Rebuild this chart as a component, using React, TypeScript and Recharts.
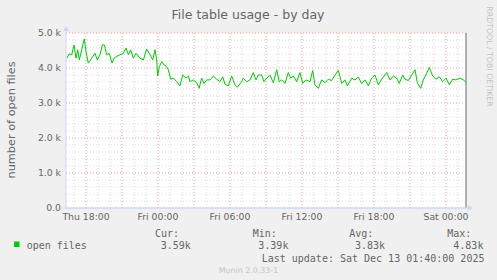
import React from 'react';
import { LineChart, Line, XAxis, YAxis, ReferenceLine } from 'recharts';

// time in hours counted from Thu 00:00, value = open files
const HOURS = [
  16.42, 16.58, 16.81, 17.0, 17.17, 17.31, 17.44, 17.64, 17.86, 18.0,
  18.19, 18.47, 18.75, 18.94, 19.17, 19.36, 19.53, 19.72, 19.94, 20.17,
  20.33, 20.56, 20.83, 21.11, 21.33, 21.53, 21.72, 21.94, 22.17, 22.5,
  22.78, 23.06, 23.33, 23.56, 23.75, 23.89, 23.97, 24.11, 24.31, 24.5,
  24.72, 24.86, 25.06, 25.28, 25.56, 25.83, 26.06, 26.33, 26.53, 26.67,
  26.94, 27.22, 27.42, 27.64, 27.83, 28.06, 28.33, 28.61, 28.89, 29.17,
  29.39, 29.58, 29.86, 30.14, 30.42, 30.61, 30.97, 31.11, 31.39, 31.67,
  31.94, 32.17, 32.36, 32.64, 32.83, 33.06, 33.33, 33.61, 33.89, 34.11,
  34.31, 34.58, 34.86, 35.06, 35.28, 35.56, 35.83, 36.06, 36.33, 36.67,
  36.89, 37.08, 37.36, 37.64, 37.92, 38.19, 38.47, 38.75, 39.03, 39.31,
  39.58, 39.78, 40.14, 40.42, 40.69, 40.97, 41.25, 41.53, 41.81, 42.08,
  42.36, 42.64, 43.06, 43.33, 43.61, 43.89, 44.11, 44.39, 44.58, 44.86,
  45.14, 45.42, 45.61, 45.89, 46.11, 46.39, 46.61, 46.89, 47.17, 47.44,
  47.72, 48.0, 48.28, 48.56, 48.83, 49.17, 49.44, 49.67,
];

const OPEN_FILES = [
  4280, 4400, 4380, 4660, 4280, 4520, 4230, 4520, 4830, 4470,
  4140, 4280, 4420, 4230, 4380, 4660, 4660, 4380, 4420, 4140,
  4280, 4330, 4380, 4420, 4570, 4380, 4520, 4280, 4420, 4280,
  4230, 4540, 4380, 4230, 4520, 4230, 3770, 4040, 4180, 4090,
  4040, 3950, 3680, 3710, 3610, 3490, 3800, 3710, 3770, 3610,
  3660, 3580, 3420, 3710, 3560, 3660, 3660, 3770, 3680, 3610,
  3750, 3540, 3490, 3770, 3520, 3450, 3610, 3710, 3610, 3660,
  3870, 3660, 3800, 3800, 3610, 3710, 3800, 3580, 3950, 3610,
  3660, 3560, 3870, 3710, 3770, 3610, 3870, 3560, 3660, 3610,
  3930, 3520, 3420, 3660, 3580, 3680, 3640, 3800, 3930, 3560,
  3660, 3490, 3710, 3660, 3740, 3560, 3660, 3490, 3710, 3800,
  3520, 3680, 3870, 3660, 3770, 3710, 3560, 3800, 3680, 3640,
  3800, 3950, 3580, 3420, 3660, 3850, 4020, 3770, 3680, 3750,
  3610, 3710, 3520, 3680, 3660, 3710, 3660, 3590,
];

const X_DOMAIN = [16.333, 49.667];
const X_TICKS = [18, 24, 30, 36, 42, 48];
const X_LABELS = ['Thu 18:00', 'Fri 00:00', 'Fri 06:00', 'Fri 12:00', 'Fri 18:00', 'Sat 00:00'];
const X_MAJOR = [18, 21, 24, 27, 30, 33, 36, 39, 42, 45, 48];
const X_MINOR = [17, 19, 20, 22, 23, 25, 26, 28, 29, 31, 32, 34, 35, 37, 38, 40, 41, 43, 44, 46, 47, 49];

const Y_TICKS = [0, 1000, 2000, 3000, 4000, 5000];
const Y_LABELS = ['0.0', '1.0 k', '2.0 k', '3.0 k', '4.0 k', '5.0 k'];
const Y_MINOR = [
  200, 400, 600, 800, 1200, 1400, 1600, 1800, 2200, 2400, 2600, 2800,
  3200, 3400, 3600, 3800, 4200, 4400, 4600, 4800,
];

const STAT_HEADS = ['Cur:', 'Min:', 'Avg:', 'Max:'];
const STAT_VALUES = ['3.59k', '3.39k', '3.83k', '4.83k'];

const data = HOURS.map((h, i) => ({ h, files: OPEN_FILES[i] }));

const FONT = "'DejaVu Sans', sans-serif";
const MONO = "'DejaVu Sans Mono', monospace";
const INK = '#666666';
const AXIS = '#CFD6F8';
const tick = { fontSize: 9.3, fontFamily: FONT, fill: INK };

export default function App() {
  const headX = [155, 252.7, 349.3, 447.3];
  const valX = [160.7, 258.3, 355, 453.3];
  return (
    <div style={{ position: 'absolute', left: 0, top: 0, width: 497, height: 280, background: '#F0F0F0' }}>
      <div style={{ position: 'absolute', left: 66, top: 33, width: 400, height: 175, background: '#fff' }} />
      <div style={{ position: 'absolute', left: 0, top: 0 }}>
        <LineChart width={497} height={280} data={data} margin={{ top: 33, right: 31, bottom: 0, left: 0 }}>
          {Y_MINOR.map((v) => (
            <ReferenceLine key={'ym' + v} y={v} stroke="#dcdcdc" strokeDasharray="1 2" />
          ))}
          {X_MINOR.map((v) => (
            <ReferenceLine key={'xm' + v} x={v} stroke="#dcdcdc" strokeDasharray="1 2" />
          ))}
          {Y_TICKS.slice(1).map((v) => (
            <ReferenceLine key={'yM' + v} y={v} stroke="#eaa4a4" strokeDasharray="1 2" />
          ))}
          {X_MAJOR.map((v) => (
            <ReferenceLine key={'xM' + v} x={v} stroke="#eaa4a4" strokeDasharray="1 2" />
          ))}
          <ReferenceLine x={X_DOMAIN[1]} stroke="#999999" strokeWidth={1.5} />
          <XAxis
            dataKey="h"
            type="number"
            domain={X_DOMAIN}
            ticks={X_TICKS}
            allowDataOverflow
            tickFormatter={(v: number) => X_LABELS[X_TICKS.indexOf(v)]}
            tick={tick}
            tickLine={false}
            tickSize={0}
            tickMargin={5}
            axisLine={{ stroke: AXIS }}
            height={72}
          />
          <YAxis
            type="number"
            domain={[0, 5000]}
            ticks={Y_TICKS}
            tickFormatter={(v: number) => Y_LABELS[Y_TICKS.indexOf(v)]}
            tick={tick}
            tickLine={false}
            tickSize={0}
            tickMargin={5}
            axisLine={{ stroke: AXIS }}
            width={66}
          />
          <Line
            type="linear"
            dataKey="files"
            stroke="#00CC00"
            strokeWidth={1}
            dot={false}
            isAnimationActive={false}
          />
        </LineChart>
      </div>
      <svg width={497} height={280} style={{ position: 'absolute', left: 0, top: 0, pointerEvents: 'none' }}>
        <line x1={66} y1={33} x2={66} y2={27} stroke={AXIS} />
        <polygon points="63,31 69,31 66,26" fill={AXIS} />
        <line x1={62} y1={208} x2={468} y2={208} stroke={AXIS} />
        <polygon points="468,205 468,211 473,208" fill={AXIS} />
        <text x={248} y={19} textAnchor="middle" fontFamily={FONT} fontSize={12.5} fill={INK}>
          File table usage - by day
        </text>
        <text
          transform="translate(15,120) rotate(-90)"
          textAnchor="middle"
          fontFamily={FONT}
          fontSize={11.3}
          fill={INK}
        >
          number of open files
        </text>
        <text
          transform="translate(487,56.5) rotate(90)"
          textAnchor="middle"
          fontFamily={FONT}
          fontSize={7.8}
          fill="#c4c4c4"
        >
          RRDTOOL / TOBI OETIKER
        </text>
        <rect x={14} y={241.5} width={5.5} height={5.5} fill="#00CC00" />
        <text x={26.7} y={248.5} fontFamily={MONO} fontSize={10} fill={INK}>
          open files
        </text>
        {STAT_HEADS.map((s, i) => (
          <text key={s} x={headX[i]} y={237.3} fontFamily={MONO} fontSize={10} fill={INK}>
            {s}
          </text>
        ))}
        {STAT_VALUES.map((s, i) => (
          <text key={s + i} x={valX[i]} y={248.5} fontFamily={MONO} fontSize={10} fill={INK}>
            {s}
          </text>
        ))}
        <text x={261.7} y={261.5} fontFamily={MONO} fontSize={10} fill={INK}>
          Last update: Sat Dec 13 01:40:00 2025
        </text>
        <text x={248.5} y={272.5} textAnchor="middle" fontFamily={FONT} fontSize={7.9} fill="#c4c4c4">
          Munin 2.0.33-1
        </text>
      </svg>
    </div>
  );
}
